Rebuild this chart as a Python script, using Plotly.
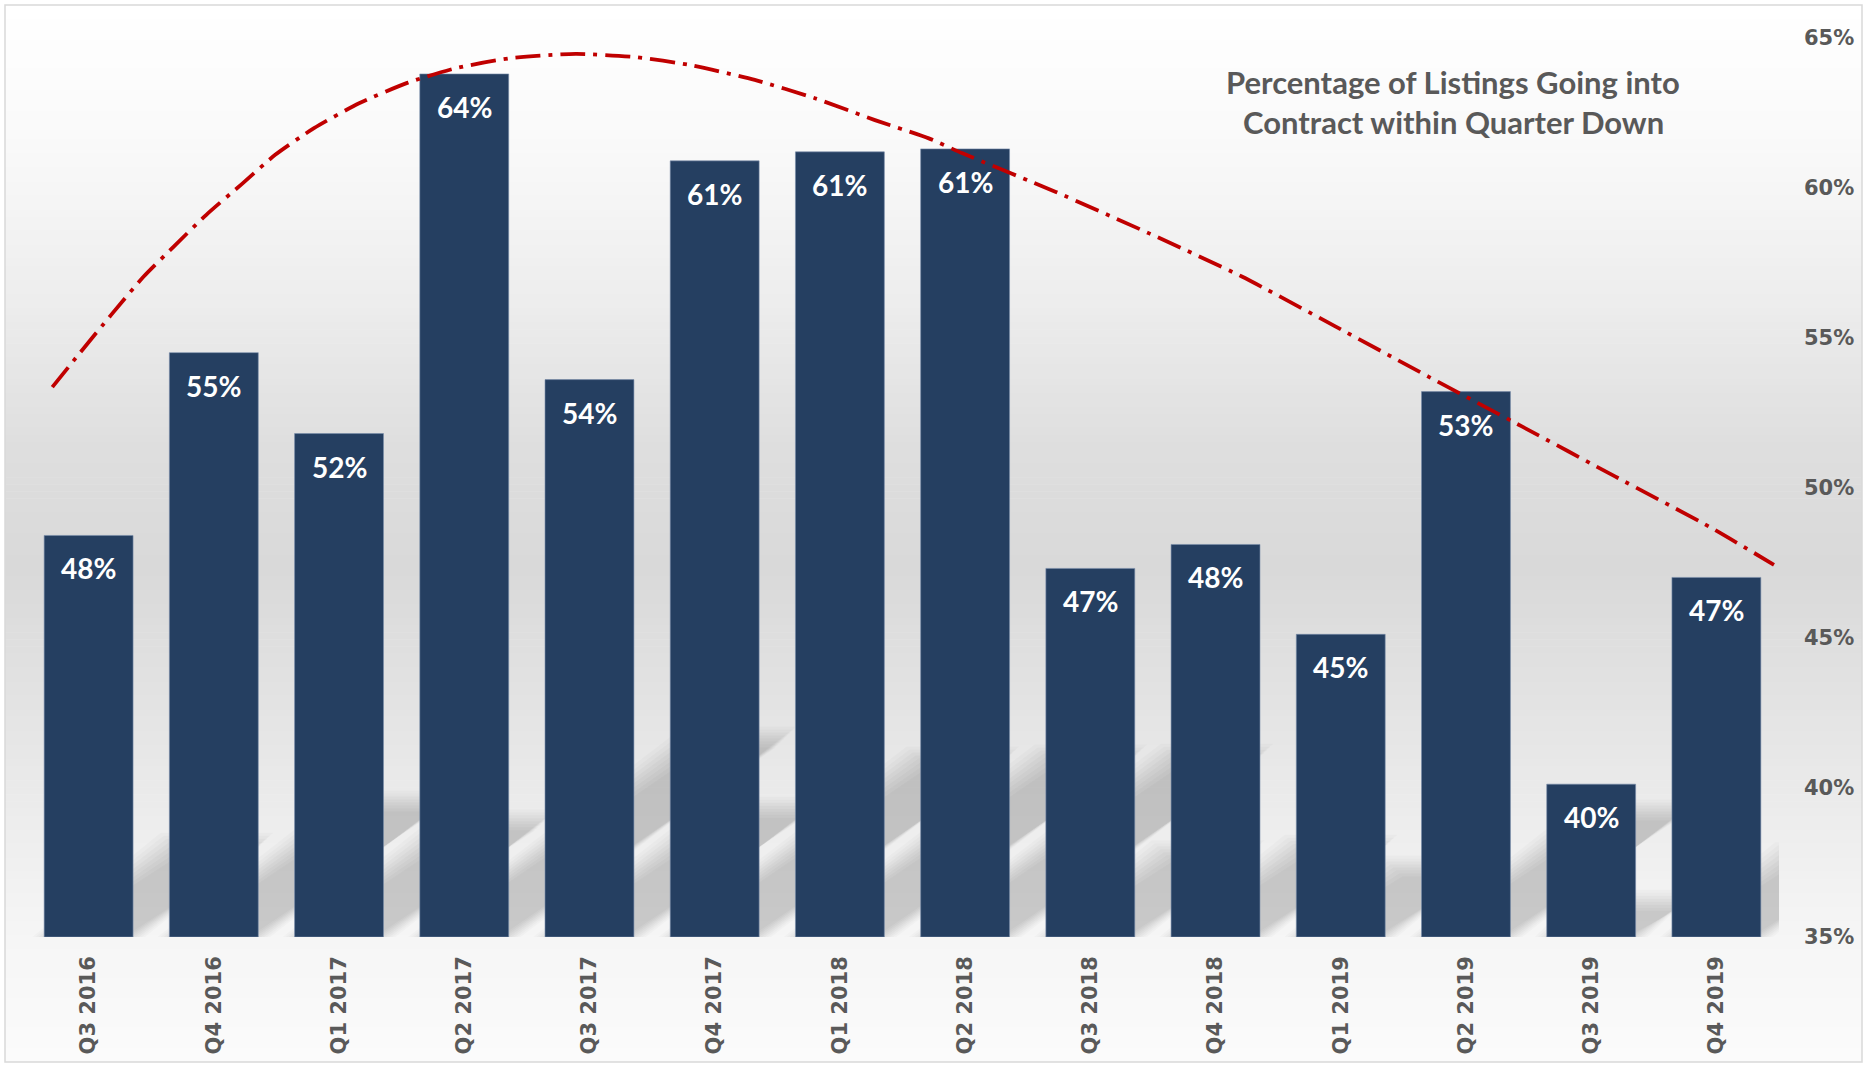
import plotly.graph_objects as go

# ---------------- data ----------------
categories = ["Q3 2016", "Q4 2016", "Q1 2017", "Q2 2017", "Q3 2017", "Q4 2017", "Q1 2018",
              "Q2 2018", "Q3 2018", "Q4 2018", "Q1 2019", "Q2 2019", "Q3 2019", "Q4 2019"]
values = [48.4, 54.5, 51.8, 63.8, 53.6, 60.9, 61.2, 61.3, 47.3, 48.1, 45.1, 53.2, 40.1, 47.0]

# trendline – x in category-index units
trend_x = [-0.29, -0.06, 0.18, 0.44, 0.68, 0.94, 1.23, 1.49, 1.80, 2.16, 2.55, 2.93, 3.36,
           3.89, 4.37, 4.80, 5.32, 5.80, 6.28, 6.71, 6.98, 7.72, 8.47, 9.21, 9.96, 10.70,
           11.45, 12.19, 12.94, 13.46]
trend_y = [53.35, 54.54, 55.76, 57.04, 58.04, 59.10, 60.15, 61.10, 61.99, 62.82, 63.51,
           63.99, 64.32, 64.47, 64.36, 64.10, 63.60, 62.99, 62.26, 61.65, 61.15, 59.87,
           58.48, 57.04, 55.37, 53.70, 52.03, 50.37, 48.70, 47.42]

y_ticks = [35, 40, 45, 50, 55, 60, 65]
title_lines = ["Percentage of Listings Going into", "Contract within Quarter Down"]

# ---------------- layout geometry ----------------
W, H = 1869, 1066
ML, MR, MT, MB = 26, 90, 38, 129
PW, PH = W - ML - MR, H - MT - MB
Y_MIN, Y_MAX = 35, 65
N_CAT = len(categories)
PX_PER_CAT = PW / N_CAT
PX_PER_PCT = PH / (Y_MAX - Y_MIN)
BAR_W = 0.71


def px(X):
    return (X - ML) / PW


def py(Y):
    return (H - MB - Y) / PH


BAR = "#253F61"
TXT = "#595959"
RED = "#C00000"

fig = go.Figure()

xs = list(range(N_CAT))
fig.add_trace(go.Bar(
    x=xs, y=[v - Y_MIN for v in values], base=Y_MIN, width=BAR_W,
    marker=dict(color=BAR, line=dict(color="rgba(120,140,170,0.6)", width=1)),
    hoverinfo="skip", showlegend=False,
))

fig.add_trace(go.Scatter(
    x=trend_x, y=trend_y, mode="lines",
    line=dict(color=RED, width=3.8, dash="25px,8px,4px,8px", shape="spline", smoothing=0.6),
    hoverinfo="skip", showlegend=False,
))

annotations = []
for x, v in zip(xs, values):
    annotations.append(dict(
        x=x, y=v, xref="x", yref="y", text=f"{int(v + 0.5)}%", showarrow=False,
        yanchor="middle", yshift=-33,
        font=dict(family="Lato", size=28, color="white", weight="bold"),
    ))

for i, line in enumerate(title_lines):
    annotations.append(dict(
        x=px(1453), y=py(82 + 40 * i), xref="paper", yref="paper", text=line,
        showarrow=False, xanchor="center", yanchor="middle",
        font=dict(family="Lato", size=31, color=TXT, weight="bold"),
    ))

# background gradient as horizontal strips
stops = [(5, 255), (150, 249), (300, 237), (450, 222), (570, 217), (700, 227),
         (850, 239), (940, 246), (1062, 251)]


def gray_at(Y):
    for (y0, g0), (y1, g1) in zip(stops[:-1], stops[1:]):
        if y0 <= Y <= y1:
            return g0 + (g1 - g0) * (Y - y0) / (y1 - y0)
    return stops[-1][1]


shapes = []
N = 150
top, bot = 5, 1062
step = (bot - top) / N
for k in range(N):
    Y0 = top + k * step
    Y1 = Y0 + step + 0.6
    g = int(round(gray_at(Y0 + step / 2)))
    shapes.append(dict(
        type="rect", xref="paper", yref="paper", layer="below",
        x0=px(5), x1=px(1862), y0=py(min(Y1, bot)), y1=py(Y0),
        fillcolor=f"rgb({g},{g},{g})", line=dict(width=0),
    ))

# perspective shadows cast by the bars (soft: stacked translucent parallelograms)
blur = [(12, 0.018), (9, 0.02), (6, 0.022), (3, 0.024), (0, 0.025), (-3, 0.025),
        (-6, 0.024), (-9, 0.022)]
for x, v in zip(xs, values):
    hgt = v - Y_MIN
    h_sh = 0.23 * hgt                                  # shadow height (% units)
    s_sh = 0.32 * hgt * PX_PER_PCT / PX_PER_CAT         # shadow skew (category units)
    for e_px, op in blur:
        ex = e_px / PX_PER_CAT
        ey = e_px / PX_PER_PCT
        xl = x - BAR_W / 2 - ex
        xr = x + BAR_W / 2 + ex
        yt = Y_MIN + h_sh + ey
        path = (f"M {xl},{Y_MIN} L {xr},{Y_MIN} "
                f"L {xr + s_sh},{yt} L {xl + s_sh},{yt} Z")
        shapes.append(dict(
            type="path", xref="x", yref="y", layer="below", path=path,
            fillcolor=f"rgba(0,0,0,{op})", line=dict(width=0),
        ))

shapes.append(dict(
    type="rect", xref="paper", yref="paper", layer="above",
    x0=px(5), x1=px(1862), y0=py(1062), y1=py(5),
    fillcolor="rgba(0,0,0,0)", line=dict(color="#D9D9D9", width=1.5),
))

fig.update_layout(
    width=W, height=H,
    margin=dict(l=ML, r=MR, t=MT, b=MB, pad=0),
    paper_bgcolor="white", plot_bgcolor="rgba(0,0,0,0)",
    showlegend=False,
    annotations=annotations,
    shapes=shapes,
    xaxis=dict(
        range=[-0.5, N_CAT - 0.5],
        tickvals=xs, ticktext=categories, tickangle=-90,
        tickfont=dict(family="DejaVu Sans", size=21, color=TXT, weight="bold"),
        showgrid=False, zeroline=False, showline=False, ticks="",
        ticklabelstandoff=14,
    ),
    yaxis=dict(
        range=[Y_MIN, Y_MAX], side="right",
        tickvals=y_ticks, ticktext=[f"{t}%" for t in y_ticks],
        tickfont=dict(family="DejaVu Sans", size=21, color=TXT, weight="bold"),
        showgrid=False, zeroline=False, showline=False, ticks="",
        ticklabelstandoff=24,
    ),
)

fig.write_html(
    "out.html",
    config={"displayModeBar": False},
    post_script="document.body.style.margin='0px';document.body.style.overflow='hidden';",
)
